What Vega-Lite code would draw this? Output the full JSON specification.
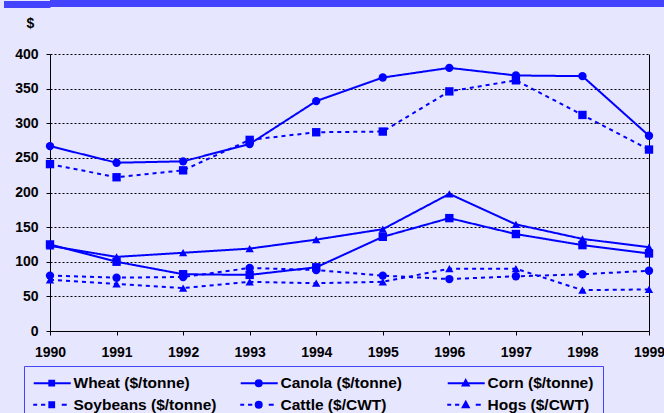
{
  "$schema": "https://vega.github.io/schema/vega-lite/v6.json",
  "background": "#E6E6FF",
  "padding": {"left": 0, "top": 0, "right": 0, "bottom": 0},
  "spacing": 8,
  "columns": 1,
  "align": "none",
  "config": {"view": {"stroke": null}, "font": "Liberation Sans"},
  "concat": [
    {
      "width": 614,
      "height": 7,
      "view": {"fill": "#4444FF", "stroke": null},
      "data": {"values": [{}]},
      "mark": {"type": "point", "opacity": 0},
      "encoding": {
        "y": {
          "datum": 0,
          "type": "quantitative",
          "scale": {"domain": [-1, 1]},
          "axis": {
            "values": [0],
            "tickSize": 46.5,
            "tickWidth": 7,
            "tickColor": "#4444FF",
            "tickOffset": 0,
            "labels": false,
            "domain": false,
            "grid": false,
            "title": null
          }
        }
      }
    },
    {
      "width": 599,
      "height": 277,
      "data": {
        "values": [
          {"year": 1990, "series": "Wheat ($/tonne)", "value": 125},
          {"year": 1991, "series": "Wheat ($/tonne)", "value": 100},
          {"year": 1992, "series": "Wheat ($/tonne)", "value": 82},
          {"year": 1993, "series": "Wheat ($/tonne)", "value": 81},
          {"year": 1994, "series": "Wheat ($/tonne)", "value": 92},
          {"year": 1995, "series": "Wheat ($/tonne)", "value": 136},
          {"year": 1996, "series": "Wheat ($/tonne)", "value": 163},
          {"year": 1997, "series": "Wheat ($/tonne)", "value": 140},
          {"year": 1998, "series": "Wheat ($/tonne)", "value": 124},
          {"year": 1999, "series": "Wheat ($/tonne)", "value": 112},
          {"year": 1990, "series": "Canola ($/tonne)", "value": 267},
          {"year": 1991, "series": "Canola ($/tonne)", "value": 243},
          {"year": 1992, "series": "Canola ($/tonne)", "value": 245},
          {"year": 1993, "series": "Canola ($/tonne)", "value": 270},
          {"year": 1994, "series": "Canola ($/tonne)", "value": 332},
          {"year": 1995, "series": "Canola ($/tonne)", "value": 366},
          {"year": 1996, "series": "Canola ($/tonne)", "value": 380},
          {"year": 1997, "series": "Canola ($/tonne)", "value": 369},
          {"year": 1998, "series": "Canola ($/tonne)", "value": 368},
          {"year": 1999, "series": "Canola ($/tonne)", "value": 282},
          {"year": 1990, "series": "Corn ($/tonne)", "value": 123},
          {"year": 1991, "series": "Corn ($/tonne)", "value": 107},
          {"year": 1992, "series": "Corn ($/tonne)", "value": 113},
          {"year": 1993, "series": "Corn ($/tonne)", "value": 119},
          {"year": 1994, "series": "Corn ($/tonne)", "value": 132},
          {"year": 1995, "series": "Corn ($/tonne)", "value": 147},
          {"year": 1996, "series": "Corn ($/tonne)", "value": 198},
          {"year": 1997, "series": "Corn ($/tonne)", "value": 154},
          {"year": 1998, "series": "Corn ($/tonne)", "value": 133},
          {"year": 1999, "series": "Corn ($/tonne)", "value": 121},
          {"year": 1990, "series": "Soybeans ($/tonne)", "value": 241},
          {"year": 1991, "series": "Soybeans ($/tonne)", "value": 222},
          {"year": 1992, "series": "Soybeans ($/tonne)", "value": 232},
          {"year": 1993, "series": "Soybeans ($/tonne)", "value": 276},
          {"year": 1994, "series": "Soybeans ($/tonne)", "value": 287},
          {"year": 1995, "series": "Soybeans ($/tonne)", "value": 288},
          {"year": 1996, "series": "Soybeans ($/tonne)", "value": 346},
          {"year": 1997, "series": "Soybeans ($/tonne)", "value": 362},
          {"year": 1998, "series": "Soybeans ($/tonne)", "value": 312},
          {"year": 1999, "series": "Soybeans ($/tonne)", "value": 262},
          {"year": 1990, "series": "Cattle ($/CWT)", "value": 80},
          {"year": 1991, "series": "Cattle ($/CWT)", "value": 77},
          {"year": 1992, "series": "Cattle ($/CWT)", "value": 78},
          {"year": 1993, "series": "Cattle ($/CWT)", "value": 91},
          {"year": 1994, "series": "Cattle ($/CWT)", "value": 88},
          {"year": 1995, "series": "Cattle ($/CWT)", "value": 80},
          {"year": 1996, "series": "Cattle ($/CWT)", "value": 75},
          {"year": 1997, "series": "Cattle ($/CWT)", "value": 79},
          {"year": 1998, "series": "Cattle ($/CWT)", "value": 82},
          {"year": 1999, "series": "Cattle ($/CWT)", "value": 87},
          {"year": 1990, "series": "Hogs ($/CWT)", "value": 74},
          {"year": 1991, "series": "Hogs ($/CWT)", "value": 68},
          {"year": 1992, "series": "Hogs ($/CWT)", "value": 62},
          {"year": 1993, "series": "Hogs ($/CWT)", "value": 71},
          {"year": 1994, "series": "Hogs ($/CWT)", "value": 69},
          {"year": 1995, "series": "Hogs ($/CWT)", "value": 71},
          {"year": 1996, "series": "Hogs ($/CWT)", "value": 90},
          {"year": 1997, "series": "Hogs ($/CWT)", "value": 90},
          {"year": 1998, "series": "Hogs ($/CWT)", "value": 59},
          {"year": 1999, "series": "Hogs ($/CWT)", "value": 60}
        ]
      },
      "encoding": {
        "x": {
          "field": "year",
          "type": "quantitative",
          "scale": {"domain": [1990, 1999], "nice": false, "zero": false},
          "axis": {
            "values": [1990, 1991, 1992, 1993, 1994, 1995, 1996, 1997, 1998, 1999],
            "format": "d",
            "grid": false,
            "domainColor": "#000000",
            "tickColor": "#000000",
            "tickSize": 4,
            "labelFlush": false,
            "labelOverlap": false,
            "labelFont": "Liberation Sans",
            "labelFontSize": 14,
            "labelFontWeight": "bold",
            "labelColor": "#000000",
            "labelPadding": 10,
            "title": " ",
            "titleX": -50,
            "titleY": 0,
            "titleAlign": "left",
            "titleBaseline": "top"
          }
        }
      },
      "layer": [
        {
          "mark": {"type": "line", "color": "#0000FF", "strokeWidth": 2},
          "encoding": {
            "y": {
              "field": "value",
              "type": "quantitative",
              "scale": {"domain": [0, 400], "nice": false},
              "axis": {
                "values": [0, 50, 100, 150, 200, 250, 300, 350, 400],
                "grid": true,
                "gridColor": "#000000",
                "gridDash": [2, 2],
                "gridWidth": 1,
                "domainColor": "#000000",
                "tickColor": "#000000",
                "tickSize": 4,
                "labelFlush": false,
                "labelFont": "Liberation Sans",
                "labelFontSize": 14,
                "labelFontWeight": "bold",
                "labelColor": "#000000",
                "labelPadding": 8,
                "title": "$",
                "titleAngle": 0,
                "titleX": -20,
                "titleY": -27,
                "titleAlign": "center",
                "titleBaseline": "alphabetic",
                "titleFont": "Liberation Sans",
                "titleFontSize": 14,
                "titleFontWeight": "bold",
                "titleColor": "#000000"
              }
            },
            "detail": {"field": "series"},
            "strokeDash": {
              "field": "series",
              "type": "nominal",
              "scale": {
                "domain": ["Wheat ($/tonne)", "Canola ($/tonne)", "Corn ($/tonne)", "Soybeans ($/tonne)", "Cattle ($/CWT)", "Hogs ($/CWT)"],
                "range": [[1, 0], [1, 0], [1, 0], [4, 4], [4, 4], [4, 4]]
              },
              "legend": null
            }
          }
        },
        {
          "mark": {"type": "point", "filled": true, "color": "#0000FF", "size": 70, "opacity": 1},
          "encoding": {
            "y": {
              "field": "value",
              "type": "quantitative",
              "scale": {"domain": [0, 400], "nice": false},
              "axis": {
                "orient": "right",
                "labels": false,
                "ticks": false,
                "grid": false,
                "domainColor": "#000000",
                "title": null
              }
            },
            "shape": {
              "field": "series",
              "type": "nominal",
              "scale": {
                "domain": ["Wheat ($/tonne)", "Canola ($/tonne)", "Corn ($/tonne)", "Soybeans ($/tonne)", "Cattle ($/CWT)", "Hogs ($/CWT)"],
                "range": ["square", "circle", "triangle-up", "square", "circle", "triangle-up"]
              },
              "legend": null
            }
          }
        },
        {
          "transform": [{"filter": "false"}],
          "mark": {"type": "point", "filled": false, "color": "#0000FF", "fill": "#0000FF", "strokeWidth": 2, "opacity": 1},
          "encoding": {
            "shape": {
              "field": "series",
              "type": "nominal",
              "scale": {
                "domain": ["Wheat ($/tonne)", "Canola ($/tonne)", "Corn ($/tonne)", "Soybeans ($/tonne)", "Cattle ($/CWT)", "Hogs ($/CWT)"],
                "range": [
                  "M-1.17,0L5,0M1.43,-0.4L2.23,-0.4L2.23,0.4L1.43,0.4Z",
                  "M-1.17,0L5,0M1.33,0A0.5,0.5 0 1,1 2.33,0A0.5,0.5 0 1,1 1.33,0Z",
                  "M-1.17,0L5,0M1.83,-0.5L2.33,0.4L1.33,0.4Z",
                  "M-1.25,0L-0.6,0M0.05,0L0.75,0M3.5,0L4.33,0M1.43,-0.4L2.23,-0.4L2.23,0.4L1.43,0.4Z",
                  "M-1.25,0L-0.6,0M0.05,0L0.75,0M3.5,0L4.33,0M1.33,0A0.5,0.5 0 1,1 2.33,0A0.5,0.5 0 1,1 1.33,0Z",
                  "M-1.25,0L-0.6,0M0.05,0L0.75,0M3.5,0L4.33,0M1.83,-0.5L2.33,0.4L1.33,0.4Z"
                ]
              },
              "legend": {
                "title": null,
                "orient": "none",
                "direction": "horizontal",
                "legendX": -26,
                "legendY": 312,
                "columns": 3,
                "gridAlign": "all",
                "symbolSize": 144,
                "symbolStrokeWidth": 2,
                "labelFont": "Liberation Sans",
                "labelFontSize": 15.5,
                "labelFontWeight": "bold",
                "labelColor": "#000000",
                "labelOffset": 25,
                "labelLimit": 300,
                "columnPadding": 19,
                "rowPadding": 5,
                "padding": 9,
                "strokeColor": "#4444FF",
                "fillColor": "#E6E6FF",
                "encode": {
                  "entries": {
                    "update": {
                      "width": {"value": 200},
                      "fill": {"value": "transparent"}
                    }
                  },
                  "symbols": {
                    "update": {
                      "stroke": {"value": "#0000FF"},
                      "fill": {"value": "#0000FF"},
                      "strokeWidth": {"value": 2},
                      "opacity": {"value": 1}
                    }
                  }
                }
              }
            }
          }
        }
      ],
      "resolve": {
        "axis": {"y": "independent"},
        "scale": {"shape": "independent"},
        "legend": {"shape": "independent"}
      }
    }
  ]
}
